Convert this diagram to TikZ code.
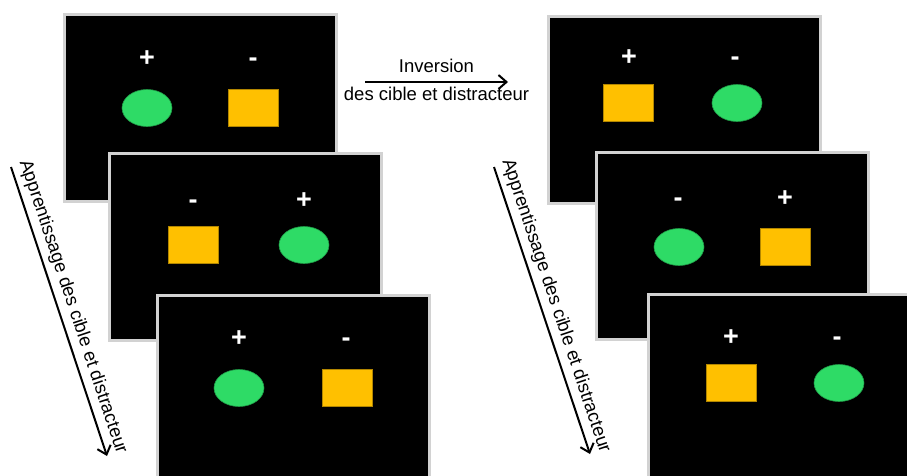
\documentclass[tikz,border=0pt]{standalone}
\usepackage{fontspec}
\setmainfont{Liberation Sans}
\usetikzlibrary{shapes.geometric,arrows.meta}
\definecolor{cgreen}{RGB}{46,219,102}
\definecolor{corange}{RGB}{255,192,0}

\begin{document}
\begin{tikzpicture}[x=1pt, y=-1pt,
  panel/.style={draw=gray!35, line width=3pt, fill=black, minimum width=272pt, minimum height=187pt, anchor=north west, inner sep=0pt},
  sign/.style={text=white, font=\fontsize{27}{27}\selectfont\bfseries, anchor=base, inner sep=0pt},
  target/.style={ellipse, fill=cgreen, draw=cgreen!70!black, line width=0.6pt, minimum width=50pt, minimum height=37pt, inner sep=0pt},
  distr/.style={rectangle, fill=corange, draw=corange!70!black, line width=0.6pt, minimum width=50pt, minimum height=37pt, inner sep=0pt},
  lbl/.style={font=\fontsize{18.5}{20}\selectfont},
  flow/.style={-{Straight Barb[length=8pt,width=14pt,line width=2pt]}, line width=2pt}]
\useasboundingbox (0,0) rectangle (907,475);

% learning phase
\node[panel] (p1) at (63,13) {};
\node[sign] (p1plus) at (147,66) {+};
\node[sign] (p1minus) at (253,66) {-};
\node[target] (p1t) at (147,108) {};
\node[distr] (p1d) at (253,108) {};

\node[panel] (p2) at (108,152) {};
\node[sign] (p2minus) at (193,208) {-};
\node[sign] (p2plus) at (304,208) {+};
\node[distr] (p2d) at (193,245) {};
\node[target] (p2t) at (304,245) {};

\node[panel] (p3) at (156,294) {};
\node[sign] (p3plus) at (239,346) {+};
\node[sign] (p3minus) at (346,346) {-};
\node[target] (p3t) at (239,388) {};
\node[distr] (p3d) at (347,388) {};

% reversal phase
\node[panel] (p4) at (547,15) {};
\node[sign] (p4plus) at (629,65) {+};
\node[sign] (p4minus) at (735,65) {-};
\node[distr] (p4d) at (628,103) {};
\node[target] (p4t) at (737,103) {};

\node[panel] (p5) at (595,151) {};
\node[sign] (p5minus) at (678,206) {-};
\node[sign] (p5plus) at (785,206) {+};
\node[target] (p5t) at (679,247) {};
\node[distr] (p5d) at (785,247) {};

\node[panel] (p6) at (647,293) {};
\node[sign] (p6plus) at (731,345) {+};
\node[sign] (p6minus) at (837,345) {-};
\node[distr] (p6d) at (731,383) {};
\node[target] (p6t) at (839,383) {};

% arrows
\coordinate (la) at (11,167);
\coordinate (lb) at (107,456);
\draw[flow] (la) -- node[lbl, sloped, above, inner sep=5pt] (ltext) {Apprentissage des cible et distracteur} (lb);

\coordinate (ra) at (494,167);
\coordinate (rb) at (590,454);
\draw[flow] (ra) -- node[lbl, sloped, above, inner sep=5pt] (rtext) {Apprentissage des cible et distracteur} (rb);

\coordinate (ta) at (365,82);
\coordinate (tb) at (508,82);
\draw[flow] (ta) -- node[lbl, above=5pt] (inv) {Inversion}
  node[lbl, below=1pt] (invb) {des cible et distracteur} (tb);
\end{tikzpicture}
\end{document}
